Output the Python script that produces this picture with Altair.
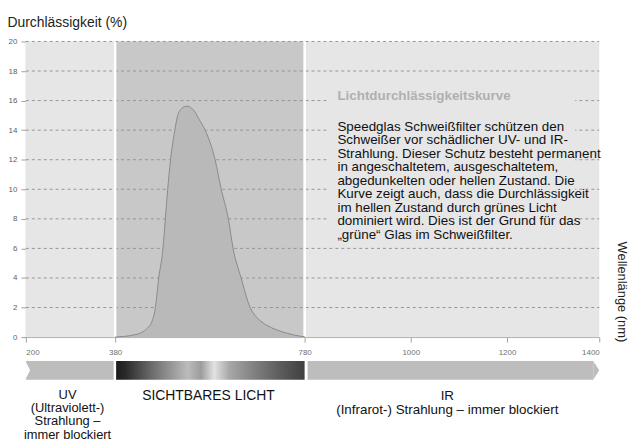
import altair as alt
import pandas as pd

FONT = "Liberation Sans"

# ---- data ----
curve_nm = [380, 400, 420, 435, 448, 457, 462, 465, 472, 481, 486, 491, 497, 506, 512,
            520, 527, 534, 541, 549, 556, 570, 591, 604, 619, 629, 646, 665, 680, 700,
            720, 744, 760, 780]
curve_pct = [0, 0.05, 0.15, 0.3, 0.6, 1.0, 1.5, 2.0, 4.0, 6.0, 8.0, 10.0, 12.0, 14.0, 15.0,
             15.45, 15.6, 15.62, 15.5, 15.2, 14.8, 14.0, 12.0, 10.0, 8.0, 6.0, 4.0, 2.0, 1.3, 0.8,
             0.5, 0.25, 0.12, 0.02]

x_ticks = [200, 380, 780, 1000, 1200, 1400]
y_ticks = [0, 2, 4, 6, 8, 10, 12, 14, 16, 18, 20]

uv_range = [200, 380]
vis_range = [380, 780]
ir_range = [780, 1400]
box_range_nm = [827, 1348]
box_range_pct = [6.6, 17.0]

title_y = "Durchlässigkeit (%)"
title_x = "Wellenlänge (nm)"
box_title = "Lichtdurchlässigkeitskurve"
box_lines = [
    "Speedglas Schweißfilter schützen den",
    "Schweißer vor schädlicher UV- und IR-",
    "Strahlung. Dieser Schutz besteht permanent",
    "in angeschaltetem, ausgeschaltetem,",
    "abgedunkelten oder hellen Zustand. Die",
    "Kurve zeigt auch, dass die Durchlässigkeit",
    "im hellen Zustand durch grünes Licht",
    "dominiert wird. Dies ist der Grund für das",
    "„grüne“ Glas im Schweißfilter.",
]
uv_lines = ["UV", "(Ultraviolett-)", "Strahlung –", "immer blockiert"]
vis_label = "SICHTBARES LICHT"
ir_lines = ["IR", "(Infrarot-) Strahlung – immer blockiert"]
uv_label_nm = 284
vis_label_nm = 577
ir_label_nm = 1076
box_text_nm = 848

# ---- scales and axes ----
xs = alt.Scale(domain=x_ticks, range=[0, 90, 281, 388, 485, 578], zero=False, nice=False)
ys = alt.Scale(domain=[0, 20], zero=False, nice=False)

x_axis = alt.Axis(values=x_ticks, grid=False, title=title_x, tickSize=5, tickColor="#a0a0a0",
                  domainColor="#b0b0b0", labelFontSize=8, labelColor="#707070", labelFont=FONT,
                  labelPadding=7, labelOverlap=False, format="d",
                  titleAngle=90, titleX=600, titleY=-46, titleAlign="center",
                  titleBaseline="middle", titleFont=FONT, titleFontSize=13,
                  titleFontWeight="normal", titleColor="#222222")
y_axis = alt.Axis(values=y_ticks, grid=False, title=title_y, tickSize=5, tickColor="#a0a0a0",
                  domainColor="#a0a0a0", labelFontSize=8, labelColor="#606060", labelFont=FONT,
                  labelPadding=4, labelOverlap=False, format="d",
                  titleAngle=0, titleX=-19, titleY=-15, titleAlign="left",
                  titleBaseline="alphabetic", titleFont=FONT, titleFontSize=14,
                  titleFontWeight="normal", titleColor="#222222")


def X(field):
    return alt.X(field, scale=xs, axis=x_axis)


def Y(field):
    return alt.Y(field, scale=ys, axis=y_axis)


def XD(v):
    return alt.datum(v, scale=xs, axis=x_axis, type="quantitative")


def YD(v):
    return alt.datum(v, scale=ys, axis=y_axis, type="quantitative")


curve_df = pd.DataFrame({"nm": curve_nm, "pct": curve_pct})
regions = pd.DataFrame({
    "name": ["UV", "VIS", "IR"],
    "start": [uv_range[0], vis_range[0], ir_range[0]],
    "end": [uv_range[1], vis_range[1], ir_range[1]],
})
one = pd.DataFrame({"a": [0]})

# background panel
bg = alt.Chart(one).mark_rect(color="#e6e6e6").encode(
    x=XD(x_ticks[0]), x2=alt.datum(x_ticks[-1]),
    y=YD(20), y2=alt.datum(0),
)
vis_bg = alt.Chart(regions[regions.name == "VIS"]).mark_rect(color="#c8c8c8").encode(
    x=X("start:Q"), x2="end:Q", y=YD(20), y2=alt.datum(0),
)
grid_df = pd.DataFrame({"v": y_ticks[1:]})
grid = alt.Chart(grid_df).mark_rule(color="#959595", strokeDash=[3, 3], strokeWidth=1).encode(
    y=Y("v:Q"), x=XD(x_ticks[0]), x2=alt.datum(x_ticks[-1]),
)
sep_df = pd.DataFrame({"nm": [vis_range[0], vis_range[1]]})
seps = alt.Chart(sep_df).mark_rule(color="white", strokeWidth=2.5).encode(
    x=X("nm:Q"), y=YD(20), y2=alt.datum(0),
)
area = alt.Chart(curve_df).mark_area(
    color="#b9b9b9", interpolate="monotone", opacity=1,
    line={"color": "#8a8a8a", "strokeWidth": 1},
).encode(x=X("nm:Q"), y=Y("pct:Q"))

box = alt.Chart(one).mark_rect(color="#e6e6e6").encode(
    x=XD(box_range_nm[0]), x2=alt.datum(box_range_nm[1]),
    y=YD(box_range_pct[1]), y2=alt.datum(box_range_pct[0]),
)
box_t = alt.Chart(one).mark_text(
    text=box_title, font=FONT, fontSize=13.5, fontWeight="bold", color="#b0b0b0",
    align="left", baseline="alphabetic",
).encode(x=XD(box_text_nm), y=alt.value(59))
box_body = alt.Chart(one).mark_text(
    text="\n".join(box_lines), lineBreak="\n", lineHeight=13.6, font=FONT, fontSize=13.5,
    color="#111111", align="left", baseline="alphabetic",
).encode(x=XD(box_text_nm), y=alt.value(90))

# bottom bands
band_y = alt.value(322)
band_y2 = alt.value(341)
uv_band = alt.Chart(regions[regions.name == "UV"]).mark_rect(color="#bdbdbd", x2Offset=-1.5).encode(
    x=X("start:Q"), x2="end:Q", y=band_y, y2=band_y2)
spec = alt.Gradient(
    gradient="linear", x1=0, x2=1, y1=0, y2=0,
    stops=[
        alt.GradientStop(color="#1c1c1c", offset=0.0),
        alt.GradientStop(color="#2a2a2a", offset=0.05),
        alt.GradientStop(color="#707070", offset=0.2),
        alt.GradientStop(color="#9a9a9a", offset=0.3),
        alt.GradientStop(color="#bcbcbc", offset=0.38),
        alt.GradientStop(color="#9c9c9c", offset=0.45),
        alt.GradientStop(color="#e2e2e2", offset=0.52),
        alt.GradientStop(color="#a8a8a8", offset=0.6),
        alt.GradientStop(color="#848484", offset=0.72),
        alt.GradientStop(color="#5c5c5c", offset=0.87),
        alt.GradientStop(color="#404040", offset=1.0),
    ],
)
vis_band = alt.Chart(regions[regions.name == "VIS"]).mark_rect(color=spec, xOffset=1).encode(
    x=X("start:Q"), x2="end:Q", y=band_y, y2=band_y2)
ir_band = alt.Chart(regions[regions.name == "IR"]).mark_rect(
    color="#bdbdbd", xOffset=3, x2Offset=-6).encode(
    x=X("start:Q"), x2="end:Q", y=band_y, y2=band_y2)
ir_tip = alt.Chart(regions[regions.name == "IR"]).mark_point(
    shape="M0,-1L0.63,0L0,1Z", size=361, filled=True, color="#bdbdbd", opacity=1,
    strokeWidth=0, xOffset=-6).encode(x=X("end:Q"), y=alt.value(331.5))
uv_notch = alt.Chart(regions[regions.name == "UV"]).mark_point(
    shape="M0,-1L0.5,0L0,1Z", size=361, filled=True, color="white", opacity=1,
    strokeWidth=0, xOffset=-0.5).encode(x=X("start:Q"), y=alt.value(331.5))

uv_t = alt.Chart(one).mark_text(
    text="\n".join(uv_lines), lineBreak="\n", lineHeight=13.5, font=FONT, fontSize=13,
    color="#111111", align="center", baseline="alphabetic",
).encode(x=XD(uv_label_nm), y=alt.value(360))
vis_t = alt.Chart(one).mark_text(
    text=vis_label, font=FONT, fontSize=14, color="#111111", align="center", baseline="alphabetic",
).encode(x=XD(vis_label_nm), y=alt.value(361))
ir_t = alt.Chart(one).mark_text(
    text="\n".join(ir_lines), lineBreak="\n", lineHeight=13.7, font=FONT, fontSize=13.5,
    color="#111111", align="center", baseline="alphabetic",
).encode(x=XD(ir_label_nm), y=alt.value(361.5))

chart = alt.layer(
    bg, vis_bg, grid, seps, area, box, box_t, box_body,
    uv_band, vis_band, ir_band, ir_tip, uv_notch, uv_t, vis_t, ir_t,
).properties(
    width=578, height=298,
    autosize=alt.AutoSizeParams(type="none"),
    padding={"left": 18, "top": 32, "right": 30, "bottom": 101},
    background="white",
).configure_view(stroke=None)

chart.save("out.html", embed_options={"renderer": "svg", "actions": False})
